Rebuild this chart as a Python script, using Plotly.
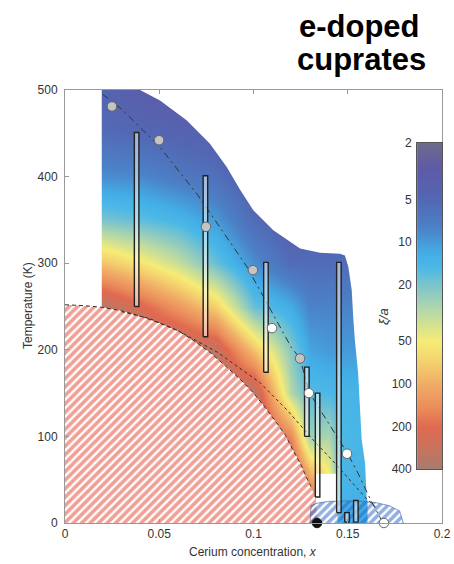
import numpy as np
import plotly.graph_objects as go

# ---------------- data ----------------
# correlation-length field xi/a sampled on a coarse grid
field_x = [0.02, 0.04, 0.06, 0.08, 0.10, 0.12, 0.13, 0.14, 0.147, 0.16]
field_T = [0, 50, 100, 150, 200, 250, 300, 350, 400, 450, 500]
field_xi = [
    [400, 400, 400, 400, 400, 400, 400, 60, 12, 12],
    [400, 400, 400, 400, 400, 400, 120, 55, 14, 13],
    [400, 400, 400, 400, 400, 150, 25, 28, 15, 14],
    [400, 400, 400, 400, 350, 30, 16, 15, 14, 13],
    [400, 400, 400, 300, 80, 22, 11, 10, 10, 10],
    [350, 220, 130, 70, 18, 12, 8, 8, 8, 8],
    [80, 55, 35, 18, 9, 5.5, 5.5, 5.5, 5.5, 5.5],
    [20, 17, 14, 10, 5.5, 4, 4, 4, 4, 4],
    [9, 8.5, 7, 6, 4, 3, 3, 3, 3, 3],
    [5.5, 5, 4.5, 4, 3, 2.5, 2.5, 2.5, 2.5, 2.5],
    [4.5, 3.5, 3, 3, 2.5, 2.2, 2.2, 2.2, 2.2, 2.2],
]

# antiferromagnetic dome (red hatched)
afm_x = [0, 0.01, 0.02, 0.03, 0.04, 0.05, 0.06, 0.068, 0.077, 0.086, 0.093, 0.1,
         0.106, 0.1125, 0.117, 0.121, 0.125, 0.128, 0.1305, 0.1326, 0.1335, 0.1337]
afm_T = [252, 251, 249, 245, 239, 231, 222, 211, 197, 180, 166, 150,
         134, 115, 101, 84, 68, 53, 42, 30, 15, 0]

# superconducting dome (blue hatched)
sc_x = [0.1300, 0.1305, 0.134, 0.140, 0.150, 0.158, 0.165, 0.172, 0.1775, 0.1795]
sc_T = [0, 20, 23, 25, 25.5, 25, 23.5, 20, 14, 0]

# upper / right boundary of the coloured region
top_x = [0.0195, 0.0398, 0.0504, 0.0645, 0.0769, 0.0858, 0.0928, 0.0999, 0.1105,
         0.1247, 0.1353, 0.1459, 0.1485, 0.1503, 0.1521, 0.153, 0.1538, 0.1555,
         0.1574, 0.1592, 0.160, 0.1605]
top_T = [500, 500, 488, 465, 438, 411, 385, 361, 338, 317, 312, 311, 309, 296,
         269, 234, 211, 173, 96, 69, 30, 25]

# white notch below the coloured region
notch_x = [0.133, 0.1445]
notch_T = 57

# dash-dot line
lineA_x = [0.020, 0.03, 0.05, 0.07, 0.0965, 0.112, 0.120, 0.1247, 0.1295, 0.137,
           0.1423, 0.150, 0.156, 0.1625, 0.168]
lineA_T = [495, 478, 435, 380, 296, 234, 203, 190, 151, 125, 107, 80, 55, 25, 3]

# dotted line
lineB_x = [0.03, 0.045, 0.06, 0.081, 0.1035, 0.118, 0.1316, 0.142, 0.153, 0.160, 0.165]
lineB_T = [244, 236, 222, 197, 162, 130, 96, 72, 45, 28, 18]

# vertical bars
bar_x = [0.038, 0.0745, 0.1066, 0.1283, 0.134, 0.1453, 0.1496, 0.1543]
bar_lo = [250, 215, 174, 100, 30, 12, 1, 1]
bar_hi = [451, 401, 301, 180, 150, 301, 12, 26]

# points
gray_x = [0.0249, 0.0499, 0.0748, 0.0997, 0.1247]
gray_T = [481, 442, 342, 292, 190]
white_x = [0.1098, 0.1294, 0.1496, 0.1692]
white_T = [225, 150, 80, 0]
black_x = [0.1337]
black_T = [0]

# colour bar
cs_xi = [2, 3, 5, 8, 12, 15, 20, 30, 50, 70, 100, 150, 200, 300, 400]
cs_col = ['#6d6b8c', '#5e5aa6', '#5367b3', '#4b82c8', '#43aee6', '#4cb8e6',
          '#7cc4cc', '#b4d8a8', '#f6ec76', '#f4d06e', '#f0ac66', '#ea8a5a',
          '#e06a50', '#c47460', '#a67c70']
cb_ticks = [2, 5, 10, 20, 50, 100, 200, 400]

x_ticks = [0, 0.05, 0.1, 0.15, 0.2]
x_ticktext = ['0', '0.05', '0.1', '0.15', '0.2']
y_ticks = [0, 100, 200, 300, 400, 500]

# ---------------- figure ----------------
lo, hi = np.log10(2), np.log10(400)
colorscale = [[(np.log10(v) - lo) / (hi - lo), c] for v, c in zip(cs_xi, cs_col)]

FONT = 'Liberation Sans, Arial, sans-serif'
fig = go.Figure()

# coloured field
fig.add_trace(go.Heatmap(
    x=field_x, y=field_T, z=np.log10(np.array(field_xi)),
    zsmooth='best', colorscale=colorscale, zmin=lo, zmax=hi,
    showscale=False, hoverinfo='skip'))

# white masks around the field
mask_x = top_x + [top_x[-1], 0.2, 0.2]
mask_T = top_T + [0, 0, 500]
fig.add_trace(go.Scatter(x=mask_x, y=mask_T, fill='toself', mode='none',
                         fillcolor='white', hoverinfo='skip'))
fig.add_trace(go.Scatter(x=[0, top_x[0], top_x[0], 0], y=[0, 0, 500, 500],
                         fill='toself', mode='none', fillcolor='white', hoverinfo='skip'))
fig.add_trace(go.Scatter(x=[notch_x[0], notch_x[1], notch_x[1], notch_x[0]],
                         y=[0, 0, notch_T, notch_T],
                         fill='toself', mode='none', fillcolor='white', hoverinfo='skip'))

# AFM dome
fig.add_trace(go.Scatter(
    x=afm_x + [0], y=afm_T + [0], fill='toself', mode='none',
    fillcolor='white',
    fillpattern=dict(shape='/', fgcolor='#e3402a', bgcolor='white', size=6, solidity=0.6),
    hoverinfo='skip'))
# SC dome
fig.add_trace(go.Scatter(
    x=sc_x, y=sc_T, fill='toself', mode='lines',
    line=dict(color='rgba(70,100,160,0.8)', width=0.8),
    fillcolor='rgba(255,255,255,0)',
    fillpattern=dict(shape='/', fgcolor='#2462c2', bgcolor='rgba(255,255,255,0)',
                     size=6, solidity=0.6),
    hoverinfo='skip'))

# AFM boundary (dashed)
fig.add_trace(go.Scatter(x=afm_x[:-3], y=afm_T[:-3], mode='lines',
                         line=dict(color='#333', width=1, dash='4px,3px'), hoverinfo='skip'))
# dotted line
fig.add_trace(go.Scatter(x=lineB_x, y=lineB_T, mode='lines',
                         line=dict(color='#333', width=1, dash='3px,3px'), hoverinfo='skip'))
# dash-dot line
fig.add_trace(go.Scatter(x=lineA_x, y=lineA_T, mode='lines',
                         line=dict(color='#333', width=1, dash='7px,4px,2px,4px'), hoverinfo='skip'))

# bars
hw = 0.0012
bx, by = [], []
for xc, l, h in zip(bar_x, bar_lo, bar_hi):
    bx += [xc - hw, xc + hw, xc + hw, xc - hw, xc - hw, None]
    by += [l, l, h, h, l, None]
fig.add_trace(go.Scatter(x=bx, y=by, mode='lines', fill='toself',
                         fillcolor='rgba(255,255,255,0.5)',
                         line=dict(color='#222', width=1.4), hoverinfo='skip'))

# points
fig.add_trace(go.Scatter(x=gray_x, y=gray_T, mode='markers', cliponaxis=False,
                         marker=dict(size=9.5, color='#c4c4c4', line=dict(color='#666', width=1))))
fig.add_trace(go.Scatter(x=white_x, y=white_T, mode='markers', cliponaxis=False,
                         marker=dict(size=9.5, color='white', line=dict(color='#666', width=1))))
fig.add_trace(go.Scatter(x=black_x, y=black_T, mode='markers', cliponaxis=False,
                         marker=dict(size=9.5, color='#111', line=dict(color='#111', width=1))))

# colour bar (manual, labels on the left)
cb_y = np.log10(cs_xi)
fig.add_trace(go.Heatmap(
    x=[0, 1], y=cb_y, z=[[v, v] for v in cb_y], zsmooth='best',
    colorscale=colorscale, zmin=lo, zmax=hi, showscale=False,
    xaxis='x2', yaxis='y2', hoverinfo='skip'))

axis_common = dict(ticks='inside', ticklen=4, tickcolor='#999', showline=True,
                   linecolor='#999', linewidth=1, mirror='ticks', showgrid=False,
                   zeroline=False, automargin=False,
                   tickfont=dict(size=12, color='#333', family=FONT))


def px_x(sx):  # screen pixel -> paper x
    return (sx - 65) / 377


def px_y(sy):  # screen pixel -> paper y
    return (523 - sy) / 433


ann_common = dict(xref='paper', yref='paper', showarrow=False,
                  xanchor='center', yanchor='middle')

fig.update_layout(
    width=454, height=564, autosize=False,
    margin=dict(l=65, r=12, t=90, b=41, autoexpand=False),
    paper_bgcolor='white', plot_bgcolor='white', showlegend=False,
    xaxis=dict(range=[0, 0.2], tickvals=x_ticks, ticktext=x_ticktext, **axis_common),
    yaxis=dict(range=[0, 500], tickvals=y_ticks, ticklabelstandoff=4, **axis_common),
    xaxis2=dict(domain=[0.934, 1.0], anchor='y2', range=[-0.5, 1.5], showticklabels=False,
                ticks='', showgrid=False, zeroline=False, showline=True,
                linecolor='#555', mirror=True, automargin=False),
    yaxis2=dict(domain=[0.1247, 0.8776], anchor='x2', range=[hi, lo],
                tickvals=np.log10(cb_ticks), ticktext=[str(t) for t in cb_ticks],
                side='left', ticks='', showgrid=False, zeroline=False, showline=True,
                linecolor='#555', mirror=True, ticklabelstandoff=2, automargin=False,
                tickfont=dict(size=12, color='#333', family=FONT)),
    annotations=[
        dict(text='e-doped', x=px_x(359), y=px_y(27),
             font=dict(size=31, family=FONT, color='black', weight='bold'), **ann_common),
        dict(text='cuprates', x=px_x(361), y=px_y(59),
             font=dict(size=31, family=FONT, color='black', weight='bold'), **ann_common),
        dict(text='Cerium concentration, <i>x</i>', x=px_x(253), y=px_y(552),
             font=dict(size=12, family=FONT, color='#333'), **ann_common),
        dict(text='Temperature (K)', x=px_x(28), y=px_y(306), textangle=-90,
             font=dict(size=12, family=FONT, color='#333'), **ann_common),
        dict(text='<i>ξ/a</i>', x=px_x(383), y=px_y(317), textangle=-90,
             font=dict(size=13, family=FONT, color='#333'), **ann_common),
    ],
)

fig.write_html('out.html', config={'responsive': False, 'displayModeBar': False},
               post_script="document.body.style.margin='0';document.body.style.overflow='hidden';")
